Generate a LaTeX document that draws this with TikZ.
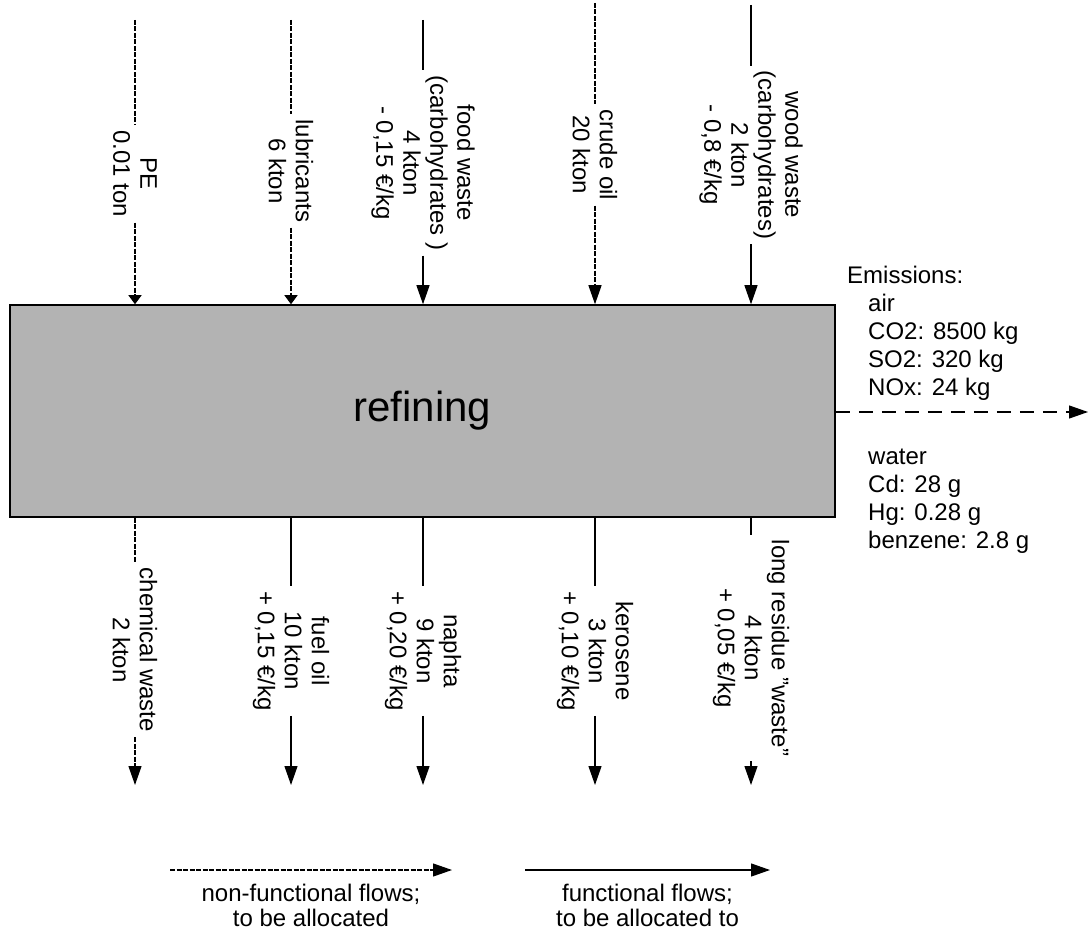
\documentclass[tikz,border=0pt]{standalone}
\usepackage{fontspec}
\setmainfont{Liberation Sans}[Ligatures=ResetAll]
\usepackage{tikz}
\usetikzlibrary{arrows.meta,calc}

\definecolor{boxgray}{HTML}{B3B3B3}

\tikzset{
  nonfunc/.style={line width=1.2pt, dash pattern=on 5pt off 1.5pt},
  func/.style={line width=1.2pt},
  emisflow/.style={line width=1.2pt, dash pattern=on 14pt off 9pt},
  head/.style={-{Triangle[length=19pt,width=13pt]}},
  shorthead/.style={-{Triangle[length=9pt,width=13pt]}},
  flowlabel/.style={rotate=-90, align=center, inner sep=5pt,
    font=\fontsize{24}{27}\selectfont},
  plaintext/.style={align=left, inner sep=0pt,
    font=\fontsize{24}{28}\selectfont},
  legendtext/.style={align=center, inner sep=0pt,
    font=\fontsize{24}{25}\selectfont},
  process/.style={draw, line width=1.5pt, fill=boxgray,
    minimum width=825pt, minimum height=212pt,
    font=\fontsize{42}{46}\selectfont}
}

\begin{document}
\begin{tikzpicture}[x=1pt,y=-1pt]
    \useasboundingbox (0,0) rectangle (1090,933);

    % the process
    \node[process] (refine) at (422.5,411) {refining};

    % inputs
    \coordinate (pe top) at (135,20);
    \coordinate (lub top) at (291,20);
    \coordinate (food top) at (423,20);
    \coordinate (crude top) at (595,3);
    \coordinate (wood top) at (751,5);

    \node[flowlabel] (pe) at (135,174) {PE\\0.01 ton};
    \node[flowlabel] (lub) at (291,171) {lubricants\\6 kton};
    \node[flowlabel] (food) at (423,163) {food waste\\(carbohydrates )\\4 kton\\- 0,15 €/kg};
    \node[flowlabel] (crude) at (595,155) {crude oil\\20 kton};
    \node[flowlabel] (wood) at (751,155) {wood waste\\(carbohydrates)\\2 kton\\- 0,8 €/kg};

    \draw[nonfunc] (pe top) -- (pe);
    \draw[nonfunc,shorthead] (pe) -- (pe |- refine.north);
    \draw[nonfunc] (lub top) -- (lub);
    \draw[nonfunc,shorthead] (lub) -- (lub |- refine.north);
    \draw[func] (food top) -- (food);
    \draw[func,head] (food) -- (food |- refine.north);
    \draw[nonfunc] (crude top) -- (crude);
    \draw[nonfunc,head] (crude) -- (crude |- refine.north);
    \draw[func] (wood top) -- (wood);
    \draw[func,head] (wood) -- (wood |- refine.north);

    % outputs
    \coordinate (chem end) at (135,785);
    \coordinate (fuel end) at (291,785);
    \coordinate (naph end) at (423,785);
    \coordinate (kero end) at (595,785);
    \coordinate (resid end) at (751,785);

    \node[flowlabel] (chem) at (135,650) {chemical waste\\2 kton};
    \node[flowlabel] (fuel) at (291,651) {fuel oil\\10 kton\\+ 0,15 €/kg};
    \node[flowlabel] (naph) at (423,651) {naphta\\9 kton\\+ 0,20 €/kg};
    \node[flowlabel] (kero) at (595,651) {kerosene\\3 kton\\+ 0,10 €/kg};
    \node[flowlabel] (resid) at (751,648) {long residue "waste"\\4 kton\\+ 0,05 €/kg};

    \draw[nonfunc] (chem |- refine.south) -- (chem);
    \draw[nonfunc,head] (chem) -- (chem end);
    \draw[func] (fuel |- refine.south) -- (fuel);
    \draw[func,head] (fuel) -- (fuel end);
    \draw[func] (naph |- refine.south) -- (naph);
    \draw[func,head] (naph) -- (naph end);
    \draw[func] (kero |- refine.south) -- (kero);
    \draw[func,head] (kero) -- (kero end);
    \draw[func] (resid |- refine.south) -- (resid);
    \draw[func,head] (resid) -- (resid end);

    % emissions
    \coordinate (emis end) at (1088,412);
    \draw[emisflow,head] (refine.east |- emis end) -- (emis end);
    \node[plaintext, anchor=north west] (air) at (847,266)
        {Emissions:\\\hspace*{21pt}air\\\hspace*{21pt}CO2: 8500 kg\\\hspace*{21pt}SO2: 320 kg\\\hspace*{21pt}NOx: 24 kg};
    \node[plaintext, anchor=north west] (water) at (868,449)
        {water\\Cd: 28 g\\Hg: 0.28 g\\benzene: 2.8 g};

    % legend
    \coordinate (nf start) at (170,870);
    \coordinate (nf end) at (452,870);
    \coordinate (f start) at (525,870);
    \coordinate (f end) at (770,870);
    \draw[nonfunc,head] (nf start) -- (nf end);
    \draw[func,head] (f start) -- (f end);
    \node[legendtext, anchor=north] (nf text) at ($(nf start)!0.5!(nf end)+(0,14)$)
        {non-functional flows;\\to be allocated};
    \node[legendtext, anchor=north] (f text) at ($(f start)!0.5!(f end)+(0,14)$)
        {functional flows;\\to be allocated to};
\end{tikzpicture}
\end{document}
